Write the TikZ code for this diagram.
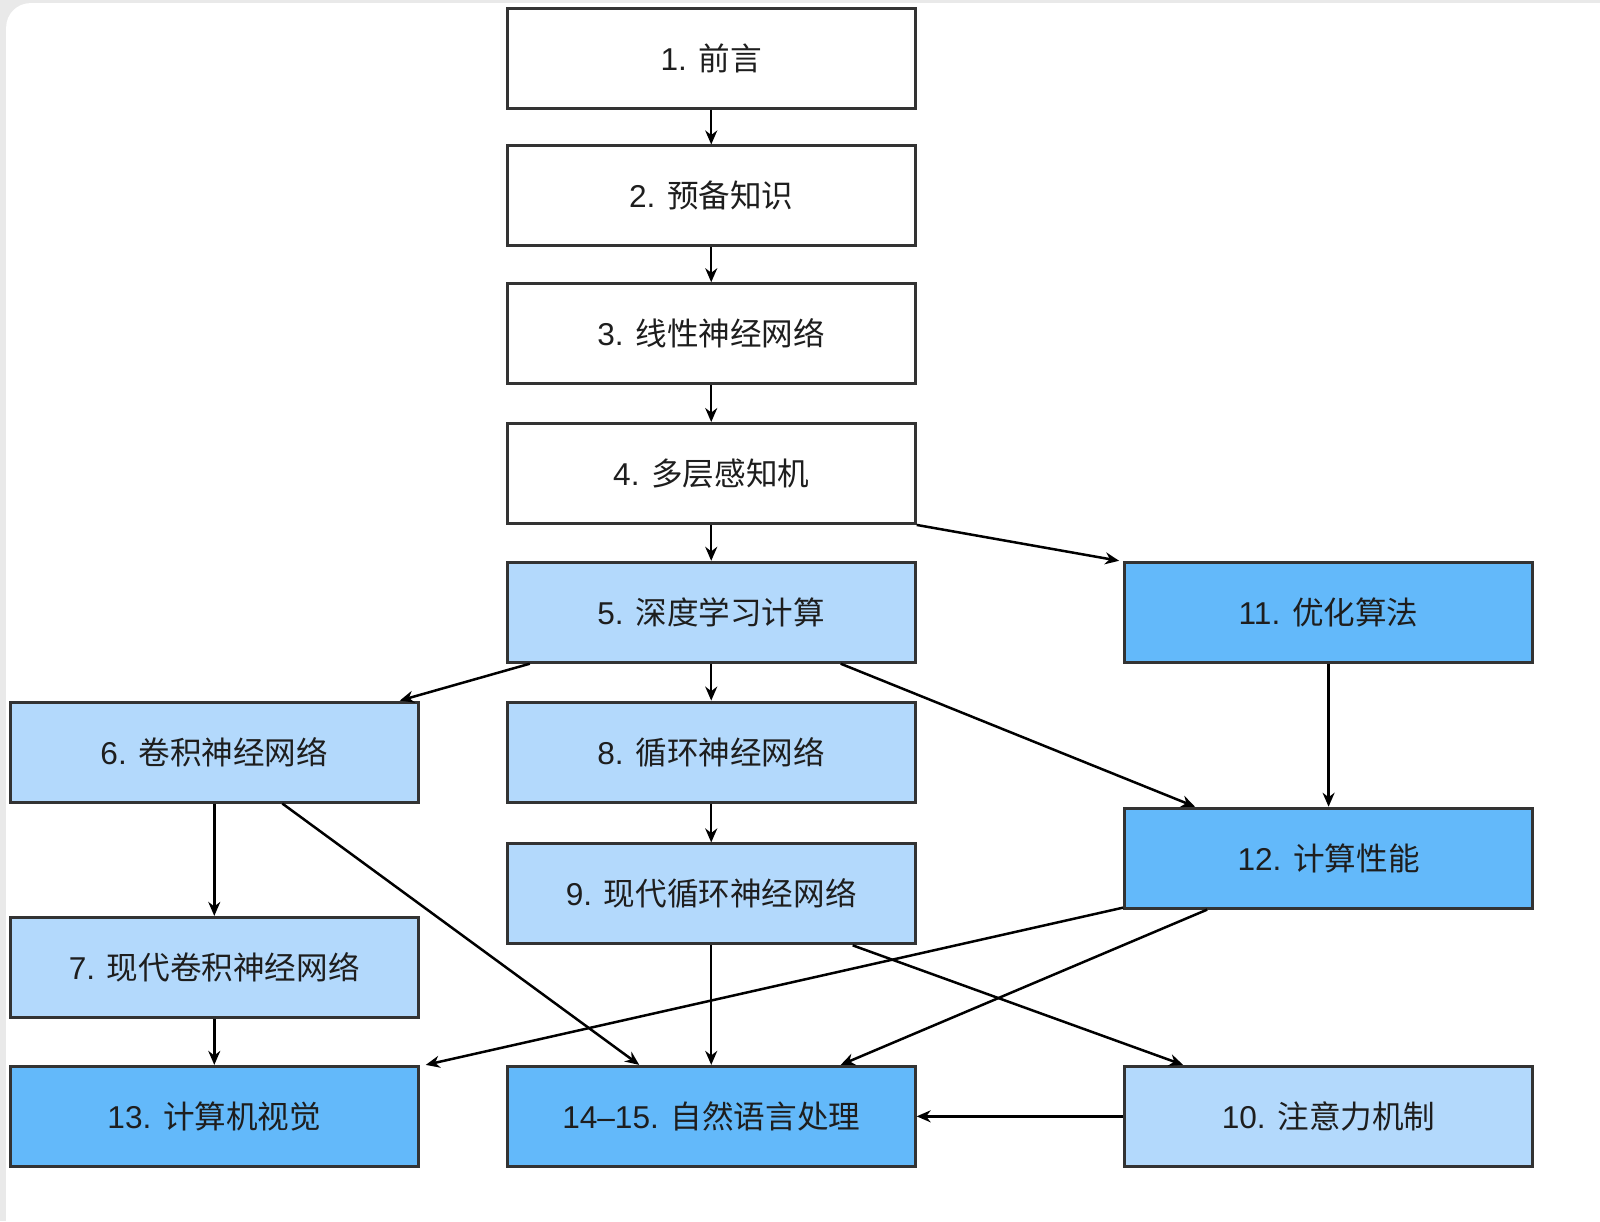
\documentclass[tikz,border=0pt]{standalone}
\usepackage{fontspec}
\setmainfont{Liberation Sans}
\newfontfamily\cjk{Noto Sans CJK SC}
\usetikzlibrary{arrows.meta,calc}
\definecolor{lightbox}{HTML}{B3D9FC}
\definecolor{darkbox}{HTML}{63B9FA}
\definecolor{edgegray}{HTML}{333333}
\definecolor{txt}{HTML}{1E1E1E}
\definecolor{framegray}{HTML}{E9E9E9}
\begin{document}
\begin{tikzpicture}[x=0.5102pt,y=-0.5102pt,
  box/.style={draw=edgegray,line width=1.45pt,minimum width=204pt,minimum height=50pt,
    inner sep=0pt,text=txt,font=\fontsize{15.8pt}{18pt}\selectfont},
  whitebox/.style={box,fill=white},
  lightb/.style={box,fill=lightbox},
  darkb/.style={box,fill=darkbox},
  conn/.style={draw=black,line width=1.25pt,-{Stealth[length=7pt,width=6pt]}}]
\useasboundingbox (0,0) rectangle (1568,1196.6);
\fill[framegray] (0,0) rectangle (1568,1196.6);
\fill[white] (6,1196.6) -- (6,27) arc[start angle=180,end angle=270,radius=24] -- (1568,3) -- (1568,1196.6) -- cycle;
% nodes
\node[whitebox] (n1) at (697,57) {1. {\cjk 前言}};
\node[whitebox] (n2) at (697,192) {2. {\cjk 预备知识}};
\node[whitebox] (n3) at (697,327) {3. {\cjk 线性神经网络}};
\node[whitebox] (n4) at (697,464) {4. {\cjk 多层感知机}};
\node[lightb] (n5) at (697,600) {5. {\cjk 深度学习计算}};
\node[darkb] (n11) at (1302,600) {11. {\cjk 优化算法}};
\node[lightb] (n6) at (210,737) {6. {\cjk 卷积神经网络}};
\node[lightb] (n8) at (697,737) {8. {\cjk 循环神经网络}};
\node[lightb] (n9) at (697,876) {9. {\cjk 现代循环神经网络}};
\node[darkb] (n12) at (1302,841) {12. {\cjk 计算性能}};
\node[lightb] (n7) at (210,948) {7. {\cjk 现代卷积神经网络}};
\node[darkb] (n13) at (210,1094) {13. {\cjk 计算机视觉}};
\node[darkb] (n14) at (697,1094) {14--15. {\cjk 自然语言处理}};
\node[lightb] (n10) at (1302,1094) {10. {\cjk 注意力机制}};
% connectors
\draw[conn] (n1) -- (n2);
\draw[conn] (n2) -- (n3);
\draw[conn] (n3) -- (n4);
\draw[conn] (n4) -- (n5);
\draw[conn] (n4.south east) -- ([xshift=-2pt]n11.north west);
\draw[conn] ([xshift=12pt]n5.south west) -- ([xshift=-10pt]n6.north east);
\draw[conn] (n5) -- (n8);
\draw[conn] ([xshift=-38pt]n5.south east) -- ([xshift=36pt]n12.north west);
\draw[conn] (n11) -- (n12);
\draw[conn] (n6) -- (n7);
\draw[conn] ([xshift=34pt]n6.south) -- ([xshift=-36pt]n14.north);
\draw[conn] (n8) -- (n9);
\draw[conn] (n9) -- (n14);
\draw[conn] ([xshift=-32pt]n9.south east) -- ([xshift=30pt]n10.north west);
\draw[conn] ([yshift=1pt]n12.south west) -- ([xshift=3pt]n13.north east);
\draw[conn] ([xshift=42pt]n12.south west) -- ([xshift=-38pt]n14.north east);
\draw[conn] (n7) -- (n13);
\draw[conn] (n10) -- (n14);
\end{tikzpicture}
\end{document}
